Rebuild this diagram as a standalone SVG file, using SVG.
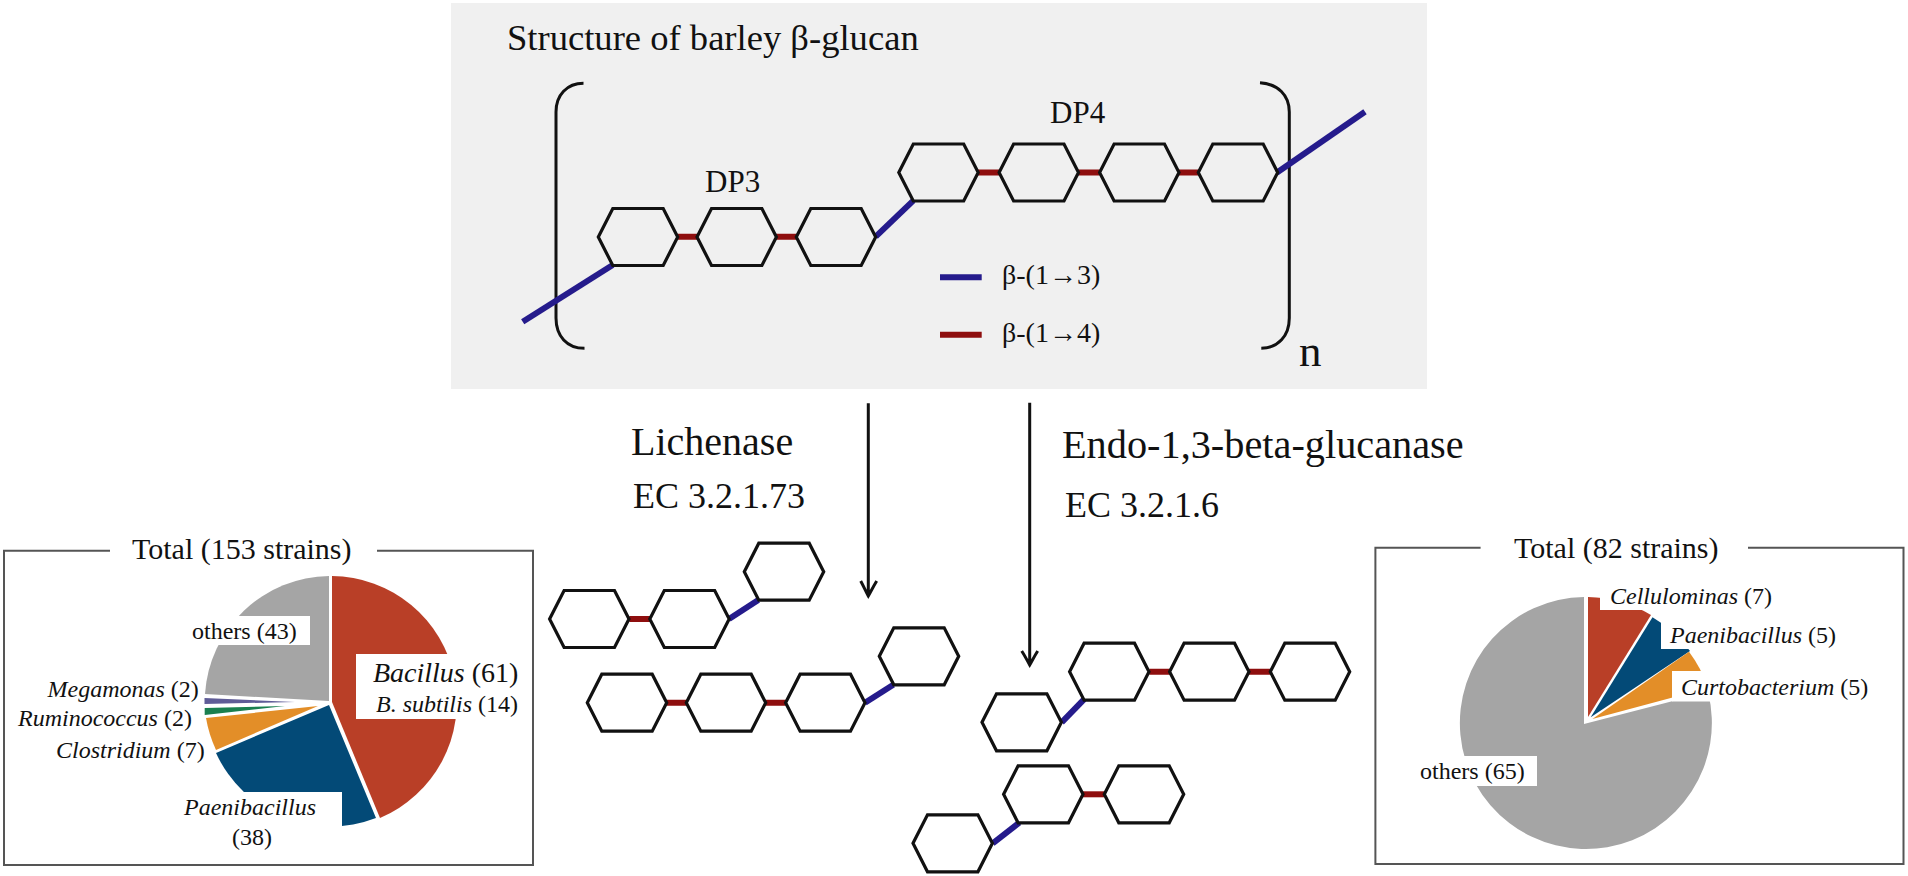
<svg xmlns="http://www.w3.org/2000/svg" xmlns:xlink="http://www.w3.org/1999/xlink" width="1908" height="876" viewBox="0 0 1908 876">
<style>
text{font-family:"Liberation Serif","Times New Roman",serif;fill:#111}
.i{font-style:italic}
.s24{font-size:24px}.s30{font-size:30px}.s36{font-size:36px}.s40{font-size:40px}.s28{font-size:28px}
.hex{fill:none;stroke:#111;stroke-width:3.2;stroke-linejoin:miter}
.b3{stroke:#251B8C;stroke-width:6;fill:none}
.b4{stroke:#8E0E0E;stroke-width:6;fill:none}
.brk{stroke:#111;stroke-width:3;fill:none}
.arr{stroke:#111;stroke-width:3;fill:none}
.frame{stroke:#555;stroke-width:2;fill:none}
.lab{fill:#fff}
.red{fill:#B93F27}.blue{fill:#034A77}.ora{fill:#E38E28}.gry{fill:#A5A5A5}.grn{fill:#1A7F4F}.pur{fill:#5F5C97}
</style>
<defs>
<polygon id="h" class="hex" points="-39.7,0 -25.2,-28.5 25.2,-28.5 39.7,0 25.2,28.5 -25.2,28.5"/>
</defs>
<rect width="1908" height="876" fill="#fff"/>
<g id="structure-panel">
<rect x="451" y="3" width="976" height="386" fill="#F0F0F0"/>
<text x="507" y="50" font-size="36.6">Structure of barley β-glucan</text>
<path class="brk" d="M583.5 83.3C567 83.3 556 95 556 112V318C556 336 567 348.3 584.5 348.3"/>
<path class="brk" d="M1260 82.7C1278 84 1289.3 95 1289.3 112V318C1289.3 336 1278 348 1261.3 348.3"/>
<text x="705" y="192" font-size="31">DP3</text>
<text x="1050" y="123" font-size="31">DP4</text>
<text x="1299" y="366" font-size="45">n</text>
</g>
<g id="connectors">
<path class="b3" d="M522.7 321.7L612.7 265"/>
<path class="b4" d="M677.3 236.7H697.7M775.7 236.7H796.7"/>
<path class="b3" d="M875.7 236.7L913.3 200.7"/>
<path class="b4" d="M978 172.5H999.3M1078.3 172.5H1099.7M1178 172.5H1199"/>
<path class="b3" d="M1276.7 172.7L1365 111.7"/>
<path class="b3" d="M940 277.3H981.7"/>
<path class="b4" d="M940 334.7H981.7"/>
<path class="arr" d="M868.3 403.3V596M860.7 581C864 587 866 592 868.3 596C870.6 592 873 587 876.7 581"/>
<path class="arr" d="M1029.7 402.7V665M1021.7 651C1025 656 1027.5 661 1029.7 665C1032 661 1034.5 656 1037.7 651"/>
<path class="b4" d="M629.3 619H650"/>
<path class="b3" d="M729 619L758.3 600"/>
<path class="b4" d="M666.7 702.7H687M765 702.7H785.7"/>
<path class="b3" d="M865 702.7L893.3 684.7"/>
<path class="b3" d="M1061.7 722.3L1084 699.3"/>
<path class="b4" d="M1149.3 671.7H1170.3M1248.3 671.7H1270.3"/>
<path class="b3" d="M992.7 843.3L1019.3 822.7"/>
<path class="b4" d="M1082.7 794.3H1104"/>
</g>
<g id="n1"><use xlink:href="#h" href="#h" x="638" y="237"/></g>
<g id="n2"><use xlink:href="#h" href="#h" x="736.7" y="237"/></g>
<g id="n3"><use xlink:href="#h" href="#h" x="836" y="237"/></g>
<g id="n4"><use xlink:href="#h" href="#h" x="938.5" y="172.5"/></g>
<g id="n5"><use xlink:href="#h" href="#h" x="1038.8" y="172.5"/></g>
<g id="n6"><use xlink:href="#h" href="#h" x="1139.3" y="172.5"/></g>
<g id="n7"><use xlink:href="#h" href="#h" x="1238" y="172.5"/></g>
<g id="legend">
<text x="1002" y="284" class="s28">β-(1→3)</text>
<text x="1002" y="342" class="s28">β-(1→4)</text>
</g>
<g id="lichenase-label">
<text x="631" y="455" class="s40">Lichenase</text>
<text x="633" y="508" class="s36">EC 3.2.1.73</text>
</g>
<g id="endo-label">
<text x="1062" y="458" font-size="40.3">Endo-1,3-beta-glucanase</text>
<text x="1065" y="517" class="s36">EC 3.2.1.6</text>
</g>
<g id="l1"><use xlink:href="#h" href="#h" x="589.3" y="619"/></g>
<g id="l2"><use xlink:href="#h" href="#h" x="689.5" y="619"/></g>
<g id="l3"><use xlink:href="#h" href="#h" x="784" y="571.7"/></g>
<g id="l4"><use xlink:href="#h" href="#h" x="627" y="702.7"/></g>
<g id="l5"><use xlink:href="#h" href="#h" x="726" y="702.7"/></g>
<g id="l6"><use xlink:href="#h" href="#h" x="825.3" y="702.7"/></g>
<g id="l7"><use xlink:href="#h" href="#h" x="919" y="656.3"/></g>
<g id="e1"><use xlink:href="#h" href="#h" x="1021.7" y="722.3"/></g>
<g id="e2"><use xlink:href="#h" href="#h" x="1109.3" y="671.7"/></g>
<g id="e3"><use xlink:href="#h" href="#h" x="1209.3" y="671.7"/></g>
<g id="e4"><use xlink:href="#h" href="#h" x="1310" y="671.7"/></g>
<g id="e5"><use xlink:href="#h" href="#h" x="952.7" y="843.3"/></g>
<g id="e6"><use xlink:href="#h" href="#h" x="1043.3" y="794.3"/></g>
<g id="e7"><use xlink:href="#h" href="#h" x="1144" y="794.3"/></g>
<g id="pie-left">
<path class="frame" d="M110 550.7H4V865H533V550.7H377"/>
<text x="132" y="559" class="s30">Total (153 strains)</text>
<path class="red" d="M332 702L332 576A126 126 0 0 1 380 818Z"/>
<path class="blue" d="M329 705L376 818A126 126 0 0 1 216 753Z"/>
<path class="ora" d="M318 706L216 750A126 126 0 0 1 206 718Z"/>
<path class="grn" d="M285 706L204.7 715V708Z"/>
<path class="pur" d="M295 702L204.5 704V698Z"/>
<path class="gry" d="M329 701L205 694A126 126 0 0 1 329 576Z"/>
<rect class="lab" x="356" y="654" width="130" height="65"/>
<rect class="lab" x="185" y="616" width="125" height="29"/>
<rect class="lab" x="180" y="792" width="162" height="60"/>
<text x="192" y="639" class="s24">others (43)</text>
<text x="373" y="682" class="s28"><tspan class="i">Bacillus</tspan> (61)</text>
<text x="376" y="712" class="s24"><tspan class="i">B. subtilis</tspan> (14)</text>
<text x="47.5" y="697" class="s24"><tspan class="i">Megamonas</tspan> (2)</text>
<text x="18" y="726" class="s24"><tspan class="i">Ruminococcus</tspan> (2)</text>
<text x="56" y="758" class="s24"><tspan class="i">Clostridium</tspan> (7)</text>
<text x="184" y="815" class="s24 i">Paenibacillus</text>
<text x="232" y="845" class="s24">(38)</text>
</g>
<g id="pie-right">
<path class="frame" d="M1480.6 547.7H1375.4V864H1903.5V547.7H1748"/>
<text x="1514" y="558" class="s30">Total (82 strains)</text>
<path class="gry" d="M1584 724L1708 692A126 126 0 1 1 1584 597Z"/>
<path class="red" d="M1588 717L1588 597A126 126 0 0 1 1651 615Z"/>
<path class="blue" d="M1590.7 717.3L1652.5 617.3A126 126 0 0 1 1690 651Z"/>
<path class="ora" d="M1592.4 719L1689 651.7A126 126 0 0 1 1708 688Z"/>
<rect class="lab" x="1600" y="575" width="185" height="35"/>
<rect class="lab" x="1661" y="612" width="180" height="37"/>
<rect class="lab" x="1672" y="671" width="203" height="30.5"/>
<rect class="lab" x="1410" y="756" width="127" height="30"/>
<text x="1610" y="604" class="s24"><tspan class="i">Cellulominas</tspan> (7)</text>
<text x="1670" y="643" class="s24"><tspan class="i">Paenibacillus</tspan> (5)</text>
<text x="1681" y="695" class="s24"><tspan class="i">Curtobacterium</tspan> (5)</text>
<text x="1420" y="779" class="s24">others (65)</text>
</g>
</svg>
